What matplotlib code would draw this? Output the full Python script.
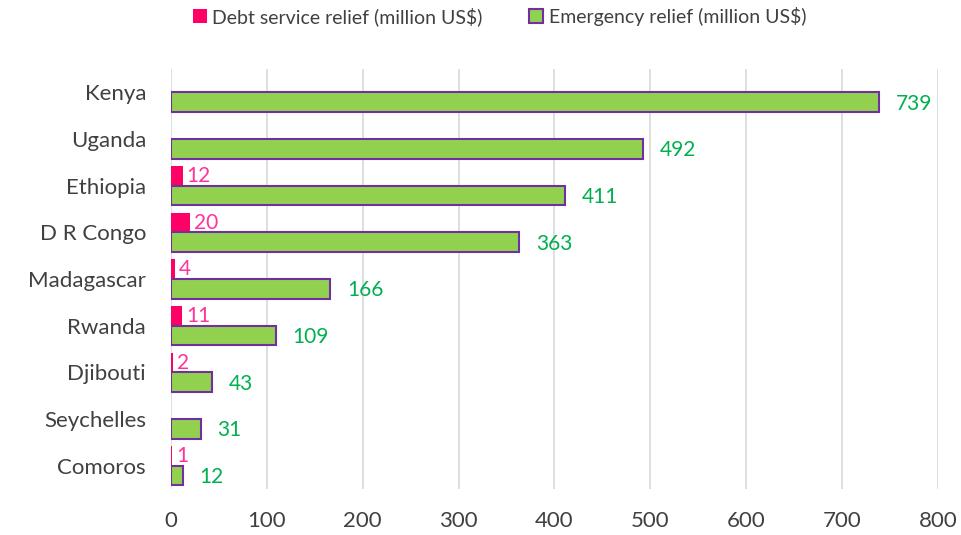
import matplotlib.pyplot as plt
import numpy as np

plt.rcParams['font.family'] = ['Lato', 'DejaVu Sans']

countries = ['Kenya', 'Uganda', 'Ethiopia', 'D R Congo', 'Madagascar',
             'Rwanda', 'Djibouti', 'Seychelles', 'Comoros']
debt = [None, None, 12, 20, 4, 11, 2, None, 1]
emergency = [739, 492, 411, 363, 166, 109, 43, 31, 12]

pink = '#FF0066'
pink_txt = '#FF3399'
green = '#92D050'
purple = '#7030A0'
green_txt = '#00B050'

fig = plt.figure(figsize=(9.61, 5.35), dpi=100)
ax = fig.add_axes([0.178, 0.086, 0.798, 0.785])

y = np.arange(len(countries))
h = 0.42
debt_vals = [d if d is not None else 0 for d in debt]
b1 = ax.barh(y - h / 2, debt_vals, h, color=pink, label='Debt service relief (million US$)')
b2 = ax.barh(y + h / 2, emergency, h, color=green, edgecolor=purple, linewidth=1.5,
             label='Emergency relief (million US$)')

for i, d in enumerate(debt):
    if d is not None:
        ax.annotate(str(d), (d, y[i] - h / 2), xytext=(3, 0), textcoords='offset points',
                    va='center', ha='left', color=pink_txt, fontsize=15)
for i, e in enumerate(emergency):
    ax.annotate(str(e), (e, y[i] + h / 2), xytext=(12, -1), textcoords='offset points',
                va='center', ha='left', color=green_txt, fontsize=15)

ax.set_xlim(0, 800)
ax.set_xticks(range(0, 801, 100))
ax.set_ylim(len(countries) - 0.5, -0.5)
ax.set_yticks(y)
ax.set_yticklabels(countries)
ax.tick_params(axis='both', length=0, labelsize=16, colors='#404040')
ax.tick_params(axis='y', pad=18)
ax.tick_params(axis='x', pad=16)
ax.grid(axis='x', color='#D9D9D9', linewidth=1.2)
ax.set_axisbelow(True)
for s in ax.spines.values():
    s.set_visible(False)

fig.legend(handles=[b1, b2], loc='upper center', bbox_to_anchor=(0.52, 1.02), ncol=2,
           frameon=False, fontsize=14, handlelength=0.7, handleheight=0.7,
           handletextpad=0.3, columnspacing=2.4, labelcolor='#404040')

fig.savefig('out.png', dpi=100)
